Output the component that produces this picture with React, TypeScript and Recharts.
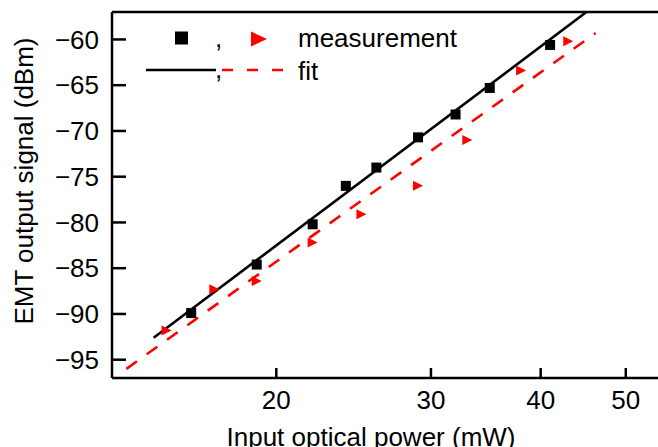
import { ComposedChart, Line, Scatter, XAxis, YAxis } from 'recharts'

const FONT = '"Liberation Sans", Arial, sans-serif'

// measurement points (input power in mW, signal in dBm)
const blackPower = [16, 19, 22, 24, 26, 29, 32, 35, 41]
const blackSignal = [-89.9, -84.6, -80.2, -76.0, -74.0, -70.7, -68.2, -65.3, -60.6]
const redPower = [15, 17, 19, 22, 25, 29, 33, 38, 43]
const redSignal = [-91.8, -87.3, -86.4, -82.2, -79.1, -76.0, -71.0, -63.4, -60.2]

// fit line end points
const blackFitPower = [14.5, 45.1]
const blackFitSignal = [-92.6, -57.0]
const redFitPower = [13.5, 46.2]
const redFitSignal = [-96.0, -59.3]

const xTicks = [20, 30, 40, 50]
const yTicks = [-95, -90, -85, -80, -75, -70, -65, -60]

const zip = (xs: number[], ys: number[]) => xs.map((x, i) => ({ x, y: ys[i] }))

const blackData = zip(blackPower, blackSignal)
const redData = zip(redPower, redSignal)
const blackFit = zip(blackFitPower, blackFitSignal)
const redFit = zip(redFitPower, redFitSignal)

const fmt = (v: number) => (v < 0 ? `\u2212${Math.abs(v)}` : `${v}`)

const Square = (props: { cx?: number; cy?: number }) => {
  const { cx = 0, cy = 0 } = props
  return <rect x={cx - 5} y={cy - 5} width={10} height={10} fill="#000" />
}

const Triangle = (props: { cx?: number; cy?: number }) => {
  const { cx = 0, cy = 0 } = props
  return <polygon points={`${cx - 5},${cy - 5} ${cx + 5},${cy} ${cx - 5},${cy + 5}`} fill="#ff0000" />
}

export default function App() {
  const tickStyle = { fontSize: 26, fontFamily: FONT, fill: '#000' }
  return (
    <div style={{ position: 'absolute', left: 0, top: 0, width: 658, height: 447, overflow: 'hidden', background: '#fff' }}>
      <ComposedChart width={672} height={447} margin={{ top: 0, right: 3, bottom: 0, left: 0 }}>
        <XAxis
          dataKey="x"
          type="number"
          scale="log"
          domain={[13, 56]}
          allowDataOverflow
          ticks={xTicks}
          tickFormatter={fmt}
          height={69}
          tickSize={-10}
          tickMargin={23}
          tick={tickStyle}
          axisLine={{ stroke: '#000', strokeWidth: 2.5 }}
          tickLine={{ stroke: '#000', strokeWidth: 2.5 }}
        />
        <XAxis
          xAxisId="top"
          orientation="top"
          type="number"
          scale="log"
          domain={[13, 56]}
          allowDataOverflow
          ticks={xTicks}
          height={12}
          tickSize={-4}
          tick={false}
          axisLine={{ stroke: '#000', strokeWidth: 2.5 }}
          tickLine={{ stroke: '#000', strokeWidth: 2 }}
        />
        <YAxis
          dataKey="y"
          type="number"
          domain={[-97, -57]}
          allowDataOverflow
          ticks={yTicks}
          tickFormatter={fmt}
          width={112}
          tickSize={-14}
          tickMargin={27}
          tick={tickStyle}
          axisLine={{ stroke: '#000', strokeWidth: 2.5 }}
          tickLine={{ stroke: '#000', strokeWidth: 2.5 }}
        />
        <Line data={redFit} dataKey="y" stroke="#ff0000" strokeWidth={2.6} strokeDasharray="13 12" dot={false} isAnimationActive={false} />
        <Line data={blackFit} dataKey="y" stroke="#000" strokeWidth={2.6} dot={false} isAnimationActive={false} />
        <Scatter data={blackData} dataKey="y" shape={<Square />} isAnimationActive={false} />
        <Scatter data={redData} dataKey="y" shape={<Triangle />} isAnimationActive={false} />
      </ComposedChart>

      <svg width={658} height={447} style={{ position: 'absolute', left: 0, top: 0, pointerEvents: 'none' }}>
        <text x={33} y={0} transform="translate(0,181) rotate(-90 33 0)" textAnchor="middle" fontSize={26} fontFamily={FONT} fill="#000">
          EMT output signal (dBm)
        </text>
        <text x={371} y={446} textAnchor="middle" fontSize={26} fontFamily={FONT} fill="#000">
          Input optical power (mW)
        </text>

        {/* legend */}
        <rect x={175} y={31.5} width={13} height={13} fill="#000" />
        <text x={215} y={47} fontSize={26} fontFamily={FONT} fill="#000">,</text>
        <polygon points="251,31.5 267,39 251,46.5" fill="#ff0000" />
        <text x={298} y={47} fontSize={26} fontFamily={FONT} fill="#000">measurement</text>

        <line x1={146} y1={70} x2={216} y2={70} stroke="#000" strokeWidth={2.6} />
        <text x={215} y={78} fontSize={26} fontFamily={FONT} fill="#000">,</text>
        <line x1={222} y1={70} x2={286} y2={70} stroke="#ff0000" strokeWidth={2.6} strokeDasharray="11 14" />
        <text x={298} y={80} fontSize={26} fontFamily={FONT} fill="#000">fit</text>
      </svg>
    </div>
  )
}
